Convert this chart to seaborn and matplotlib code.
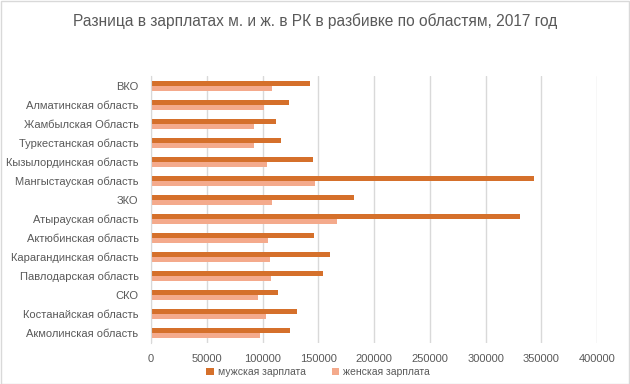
import pandas as pd
import matplotlib
matplotlib.use("Agg")
from matplotlib import pyplot as plt
import seaborn as sns

regions = ["ВКО", "Алматинская область", "Жамбылская Область", "Туркестанская область",
           "Кызылординская область", "Мангыстауская область", "ЗКО", "Атырауская область",
           "Актюбинская область", "Карагандинская область", "Павлодарская область", "СКО",
           "Костанайская область", "Акмолинская область"]
male = [142500, 123400, 111700, 116500, 145100, 343200, 181900,
        330600, 146000, 160400, 154100, 113500, 130500, 124300]
female = [108400, 101200, 92300, 92300, 103900, 147000, 108400,
          166700, 104800, 106600, 107500, 95900, 103000, 97700]
series = ["мужская зарплата", "женская зарплата"]
colors = ["#D5702B", "#F4AA8C"]

df = pd.DataFrame({"region": regions * 2,
                   "value": male + female,
                   "sex": [series[0]] * len(regions) + [series[1]] * len(regions)})

sns.set_style("white")
plt.rcParams["font.family"] = ["Liberation Sans", "DejaVu Sans"]

fig = plt.figure(figsize=(6.3, 3.84), dpi=100)
ax = fig.add_axes([0.2397, 0.108, 0.708, 0.693])
sns.barplot(data=df, x="value", y="region", hue="sex", order=regions, hue_order=series,
            palette=colors, width=0.52, orient="h", ax=ax, saturation=1, linewidth=0)

ax.set_xlim(0, 400000)
ax.set_xticks(range(0, 400001, 50000))
ax.set_xticklabels([str(v) for v in range(0, 400001, 50000)])
ax.grid(axis="x", color="#D9D9D9", linewidth=1)
ax.set_axisbelow(True)
for s in ["top", "right", "bottom"]:
    ax.spines[s].set_visible(False)
ax.spines["left"].set_color("#D9D9D9")
ax.tick_params(axis="both", length=0, labelsize=8, labelcolor="#595959")
ax.tick_params(axis="x", pad=8)
ax.tick_params(axis="y", pad=9)
ax.set_xlabel("")
ax.set_ylabel("")

ax.legend(loc="center", bbox_to_anchor=(0.505, 0.031), bbox_transform=fig.transFigure,
          ncol=2, frameon=False, fontsize=7.5, labelcolor="#595959",
          handlelength=0.7, handleheight=0.7, columnspacing=2.5, handletextpad=0.4)

fig.suptitle("Разница в зарплатах м. и ж. в РК в разбивке по областям, 2017 год",
             y=0.965, fontsize=11.2, color="#595959")

border = plt.Rectangle((0.001, 0.001), 0.997, 0.997, transform=fig.transFigure,
                       fill=False, edgecolor="#D9D9D9", linewidth=1)
fig.patches.append(border)

plt.savefig("out.png", dpi=100)
